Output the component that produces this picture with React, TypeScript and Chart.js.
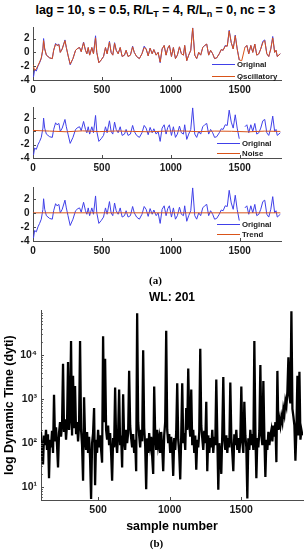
import React, { useEffect, useRef } from 'react';
import { Chart, registerables } from 'chart.js';

Chart.register(...registerables);

// ---------- (a) decomposition subplots ----------
const sampleX = [0,12,24,36,48,60,72,77,85,97,121,140,150,164,174,188,198,212,232,242,254,270,290,309,326,338,350,367,381,391,401,411,427,439,454,463,478,495,512,526,538,555,567,579,592,604,618,633,647,664,676,690,707,723,735,752,772,791,807,821,836,850,865,877,894,908,923,937,952,966,978,990,1005,1019,1034,1048,1063,1077,1092,1101,1116,1130,1145,1159,1174,1188,1203,1217,1232,1246,1261,1275,1289,1304,1318,1333,1352,1366,1380,1395,1410,1424,1439,1453,1468,1482,1497,1515,1538,1552,1566,1581,1595,1610,1624,1639,1653,1668,1682,1697,1711,1726,1740,1754,1764,1773,1795];

const originalVals = [-4.0,-2.5,-2.7,-2.0,-1.5,-0.9,0.5,2.0,0.5,-0.4,-0.8,-0.9,0.3,1.3,1.0,1.2,0.0,0.5,1.8,0.7,-0.4,-1.8,-0.9,0.3,0.6,0.7,0.1,1.5,0.3,-0.2,0.7,-0.4,0.7,-0.2,2.4,0.0,-1.5,-1.1,-0.6,0.7,-0.2,1.6,0.0,-0.4,1.4,0.3,-0.2,0.7,-0.6,-0.4,0.3,-0.6,-0.4,0.9,0.0,-0.6,-0.9,-0.2,0.9,0.5,-0.5,0.6,-0.2,0.4,-0.4,0.0,-1.5,0.5,1.0,-0.4,0.6,1.0,-0.6,0.7,-0.9,-0.4,0.8,-0.2,-0.4,1.0,-1.2,-0.4,0.3,3.55,-0.4,-0.9,0.0,-0.4,0.7,1.0,1.2,-0.4,0.3,-0.2,-0.9,-0.8,-0.2,0.4,0.3,1.0,0.9,3.2,1.4,0.5,2.5,0.5,-1.1,null,0.7,1.0,-0.2,1.0,0.0,1.2,-0.4,-0.2,0.5,1.6,1.8,-0.2,-0.6,0.5,2.3,0.0,0.3,-0.6,-0.2];

const oscillatoryVals = [-1.8,-2.6,-2.4,-1.9,-1.4,-0.8,0.5,1.7,0.5,-0.4,-0.8,-0.9,0.3,1.2,1.0,1.1,0.0,0.5,1.7,0.7,-0.4,-1.7,-0.9,0.3,0.6,0.7,0.1,1.4,0.3,-0.2,0.7,-0.4,0.7,-0.2,2.1,0.0,-1.5,-1.1,-0.6,0.7,-0.2,1.5,0.0,-0.4,1.3,0.3,-0.2,0.7,-0.6,-0.4,0.3,-0.6,-0.4,0.8,0.0,-0.6,-0.9,-0.2,0.7,0.5,-0.5,0.6,-0.2,0.4,-0.4,0.0,-1.4,0.5,1.0,-0.4,0.6,1.0,-0.6,0.7,-0.9,-0.4,0.8,-0.2,-0.4,1.0,-1.2,-0.4,0.3,3.5,-0.4,-0.9,0.0,-0.4,0.7,1.0,1.2,-0.4,0.3,-0.2,-0.9,-0.8,-0.2,0.4,0.3,0.9,0.9,3.1,1.4,0.5,2.4,0.5,-1.1,-1.2,0.7,1.0,-0.2,1.0,0.0,1.2,-0.4,-0.2,0.5,1.4,1.7,-0.2,-0.6,0.5,2.1,0.0,0.3,-0.6,-0.2];

const noiseX = [0,120,240,360,480,600,720,840,960,1080,1200,1320,1440,1560,1680,1795];
const noiseVals = [0.15,0.05,-0.05,0.08,-0.03,0.06,0.0,-0.05,0.04,0.07,-0.04,0.05,0.02,-0.06,0.04,0.0];

const trendX = [0, 1795];
const trendVals = [0.0, 0.0];

const subXTicks = [0, 500, 1000, 1500];
const subYTicks = [-4, -2, 0, 2];

// ---------- (b) dynamic time ----------
const dtStart = 101;
const dtStep = 7;
const dytiVals = [
  180, 60, 33, 150, 90, 200, 70, 160, 16, 120,
  80, 190, 60, 1260, 110, 230, 90, 28, 170, 300,
  140, 260, 6400, 180, 350, 120, 280, 7000, 200, 400,
  21000, 150, 3400, 220, 2000, 160, 300, 110, 250, 21000,
  200, 90, 14, 1100, 130, 70, 180, 60, 140, 45,
  5.4, 100, 170, 630, 11, 120, 60, 200, 80, 150,
  70, 36, 27000, 300, 8300, 200, 120, 250, 90, 170,
  60, 14, 130, 80, 1850, 110, 60, 160, 1650, 90,
  150, 28, 1300, 120, 70, 200, 100, 170, 4400, 250,
  130, 80, 160, 60, 120, 23, 90000, 300, 150, 80,
  200, 110, 13000, 220, 90, 9, 130, 60, 170, 90,
  140, 50, 20, 1950, 160, 70, 200, 90, 130, 60,
  180, 80, 23, 150, 300, 36000, 200, 100, 160, 60,
  140, 80, 18, 130, 70, 180, 2300, 120, 60, 15,
  150, 2300, 100, 170, 70, 630, 200, 5000, 300, 140,
  1650, 90, 200, 60, 150, 25, 120, 80, 180, 14000,
  250, 130, 70, 190, 100, 870, 23, 150, 60, 130,
  80, 200, 60, 140, 90, 2800, 150, 8.7, 100, 60,
  20, 170, 3200, 120, 70, 150, 60, 130, 80, 2400,
  140, 60, 23, 160, 90, 200, 70, 130, 60, 120,
  1950, 110, 60, 870, 150, 80, 5.5, 130, 70, 200,
  90, 160, 70, 21000, 200, 16, 130, 80, 190, 6000,
  150, 90, 2600, 140, 17, 120, 70, 180, 90, 150,
  200, 110, 250, 140, 300, 37, 4400, 200, 350, 250,
  400, 300, 600, 450, 900, 700, 1500, 9000, 1200, 800,
  100000, 600, 400, 250, 40, 200, 3400, 150, 4200, 120,
  200, 150
];
const dtXTicks = [500, 1000, 1500];
const dtYTicks = [10, 100, 1000, 10000];
const dtYLabels = ['10\u00B9', '10\u00B2', '10\u00B3', '10\u2074'];

const BLUE = '#4040e8';
const RED = '#d95319';
const AXIS = '#4d4d4d';
const TXT = '#1a1a1a';
const FONT = '"Liberation Sans", Arial, Helvetica, sans-serif';

Chart.defaults.font.family = FONT;

const insideLegend = {
  id: 'insideLegend',
  afterDraw(chart: any, _a: any, opts: any) {
    if (!opts || !opts.items) return;
    const { ctx, chartArea } = chart;
    ctx.save();
    ctx.font = 'bold 7.8px ' + FONT;
    ctx.textBaseline = 'middle';
    ctx.textAlign = 'left';
    for (const it of opts.items) {
      const y = Math.round(chartArea.bottom + it.dy) + 0.5;
      ctx.strokeStyle = it.color;
      ctx.lineWidth = 1;
      ctx.beginPath();
      ctx.moveTo(chartArea.right + opts.x1, y);
      ctx.lineTo(chartArea.right + opts.x2, y);
      ctx.stroke();
      ctx.fillStyle = TXT;
      ctx.fillText(it.label, chartArea.right + opts.tx, y);
    }
    ctx.restore();
  },
};

const innerTicks = {
  id: 'innerTicks',
  afterDraw(chart: any, _a: any, opts: any) {
    if (!opts) return;
    const { ctx, chartArea, scales } = chart;
    ctx.save();
    ctx.strokeStyle = AXIS;
    ctx.lineWidth = 1;
    ctx.beginPath();
    const len = opts.len || 3;
    for (const v of opts.x || []) {
      const px = Math.round(scales.x.getPixelForValue(v)) + 0.5;
      ctx.moveTo(px, chartArea.bottom);
      ctx.lineTo(px, chartArea.bottom - len);
    }
    for (const v of opts.y || []) {
      const py = Math.round(scales.y.getPixelForValue(v)) + 0.5;
      ctx.moveTo(chartArea.left, py);
      ctx.lineTo(chartArea.left + len, py);
    }
    if (opts.minor) {
      const ys = scales.y;
      for (let e = 0; e <= 5; e++) {
        for (let d = 2; d <= 9; d++) {
          const v = d * Math.pow(10, e);
          if (v < ys.min || v > ys.max) continue;
          const py = Math.round(ys.getPixelForValue(v)) + 0.5;
          ctx.moveTo(chartArea.left, py);
          ctx.lineTo(chartArea.left + 1.8, py);
        }
      }
    }
    ctx.stroke();
    ctx.restore();
  },
};

const noGrid = { display: false, drawTicks: false, drawOnChartArea: false };

function subConfig(datasets: any[], legendItems: any[], legendPos: any, areaTopPad: number) {
  return {
    type: 'line',
    data: { datasets },
    plugins: [insideLegend, innerTicks],
    options: {
      animation: false,
      responsive: false,
      layout: { padding: { top: areaTopPad, right: 26, left: 0, bottom: 0 } },
      elements: { point: { radius: 0 }, line: { tension: 0 } },
      plugins: {
        legend: { display: false },
        tooltip: { enabled: false },
        title: { display: false },
        insideLegend: { items: legendItems, ...legendPos },
        innerTicks: { x: subXTicks, y: subYTicks, len: 3 },
      },
      scales: {
        x: {
          type: 'linear',
          min: 0,
          max: 1800,
          afterBuildTicks: (s: any) => { s.ticks = subXTicks.map((v) => ({ value: v })); },
          afterFit: (s: any) => { s.height = 20; },
          grid: noGrid,
          border: { display: true, color: AXIS, width: 1 },
          ticks: {
            padding: 4,
            autoSkip: false,
            maxRotation: 0,
            color: TXT,
            font: { size: 10, weight: 'bold' },
            callback: (v: any) => String(v),
          },
        },
        y: {
          type: 'linear',
          min: -4,
          max: 3.6,
          afterBuildTicks: (s: any) => { s.ticks = subYTicks.map((v) => ({ value: v })); },
          afterFit: (s: any) => { s.width = 33; },
          grid: noGrid,
          border: { display: true, color: AXIS, width: 1 },
          ticks: {
            padding: 3.5,
            autoSkip: false,
            color: TXT,
            font: { size: 10, weight: 'bold' },
            callback: (v: any) => String(v),
          },
        },
      },
    },
  };
}

function pts(xs: number[], ys: (number | null)[]) {
  return xs.map((x, i) => ({ x, y: ys[i] }));
}

export default function App() {
  const c1 = useRef<HTMLCanvasElement>(null);
  const c2 = useRef<HTMLCanvasElement>(null);
  const c3 = useRef<HTMLCanvasElement>(null);
  const c4 = useRef<HTMLCanvasElement>(null);

  useEffect(() => {
    document.body.style.margin = '0';
    const charts: Chart[] = [];
    const orig = { label: 'Original', data: pts(sampleX, originalVals), borderColor: BLUE, borderWidth: 1, spanGaps: false };

    charts.push(new Chart(c1.current as HTMLCanvasElement, subConfig(
      [
        { label: 'Oscillatory', data: pts(sampleX, oscillatoryVals), borderColor: RED, borderWidth: 1 },
        orig,
      ],
      [ { label: 'Original', color: BLUE, dy: -16 }, { label: 'Oscillatory', color: RED, dy: -4.5 } ],
      { x1: -69, x2: -46, tx: -44 },
      5,
    ) as any));

    charts.push(new Chart(c2.current as HTMLCanvasElement, subConfig(
      [
        { label: 'Noise', data: pts(noiseX, noiseVals), borderColor: RED, borderWidth: 1 },
        { ...orig, data: pts(sampleX, originalVals) },
      ],
      [ { label: 'Original', color: BLUE, dy: -15.3 }, { label: 'Noise', color: RED, dy: -5.3 } ],
      { x1: -64, x2: -41, tx: -39 },
      5,
    ) as any));

    charts.push(new Chart(c3.current as HTMLCanvasElement, subConfig(
      [
        { label: 'Trend', data: pts(trendX, trendVals), borderColor: RED, borderWidth: 1 },
        { ...orig, data: pts(sampleX, originalVals) },
      ],
      [ { label: 'Original', color: BLUE, dy: -16.7 }, { label: 'Trend', color: RED, dy: -6.7 } ],
      { x1: -64, x2: -41, tx: -39 },
      5,
    ) as any));

    charts.push(new Chart(c4.current as HTMLCanvasElement, {
      type: 'line',
      data: {
        datasets: [
          {
            label: 'dyti',
            data: dytiVals.map((v, i) => ({ x: dtStart + i * dtStep, y: v })),
            borderColor: '#000',
            borderWidth: 2.3,
          },
        ],
      },
      plugins: [innerTicks],
      options: {
        animation: false,
        responsive: false,
        layout: { padding: { top: 7, right: 4, left: 0, bottom: 0 } },
        elements: { point: { radius: 0 }, line: { tension: 0 } },
        plugins: {
          legend: { display: false },
          tooltip: { enabled: false },
          innerTicks: { x: dtXTicks, y: dtYTicks, len: 3, minor: true },
        } as any,
        scales: {
          x: {
            type: 'linear',
            min: 101,
            max: 1932,
            afterBuildTicks: (s: any) => { s.ticks = dtXTicks.map((v) => ({ value: v })); },
            afterFit: (s: any) => { s.height = 35; },
            grid: noGrid,
            border: { display: true, color: AXIS, width: 1 },
            ticks: {
              padding: 4,
              autoSkip: false,
              maxRotation: 0,
              color: TXT,
              font: { size: 10.5, weight: 'bold' },
              callback: (v: any) => String(v),
            },
            title: {
              display: true,
              text: 'sample number',
              color: '#000',
              font: { size: 12.4, weight: 'bold' },
              padding: { top: 0, bottom: 0.5 },
            },
          },
          y: {
            type: 'logarithmic',
            min: 5.1,
            max: 105000,
            afterBuildTicks: (s: any) => { s.ticks = dtYTicks.map((v) => ({ value: v })); },
            afterFit: (s: any) => { s.width = 41; },
            grid: noGrid,
            border: { display: true, color: AXIS, width: 1 },
            ticks: {
              padding: 4,
              autoSkip: false,
              color: TXT,
              font: { size: 10.5, weight: 'bold' },
              callback: (_v: any, i: number) => dtYLabels[i],
            },
            title: {
              display: true,
              text: 'log Dynamic Time (dyti)',
              color: '#000',
              font: { size: 12.4, weight: 'bold' },
              padding: { top: 2, bottom: 0 },
            },
          },
        },
      },
    } as any));

    return () => charts.forEach((c) => c.destroy());
  }, []);

  const abs = (top: number, h: number): React.CSSProperties => ({ position: 'absolute', left: 0, top, width: 307, height: h });
  const sub: React.CSSProperties = { fontSize: '9px', verticalAlign: '-3px', lineHeight: 0 };

  return (
    <div style={{ position: 'relative', width: 307, height: 550, background: '#fff', overflow: 'hidden' }}>
      <div style={{ position: 'absolute', left: 2, top: 3, width: 307, textAlign: 'center', font: `bold 12.4px ${FONT}`, lineHeight: '14px', color: '#000', whiteSpace: 'nowrap' }}>
        lag = 10, s = 0.5, R/L<sub style={sub}>T</sub> = 4, R/L<sub style={sub}>n</sub> = 0, nc = 3
      </div>
      <canvas ref={c1} width={307} height={82} style={abs(18, 82)} />
      <canvas ref={c2} width={307} height={80} style={abs(98, 80)} />
      <canvas ref={c3} width={307} height={83} style={abs(178, 83)} />
      <div style={{ position: 'absolute', left: 0, top: 273, width: 311, textAlign: 'center', font: 'bold 11px "Liberation Serif", "Times New Roman", serif', lineHeight: '14px', color: '#000' }}>(a)</div>
      <div style={{ position: 'absolute', left: 0, top: 290, width: 344, textAlign: 'center', font: `bold 12px ${FONT}`, lineHeight: '15px', color: '#000' }}>WL: 201</div>
      <canvas ref={c4} width={307} height={235} style={abs(300, 235)} />
      <div style={{ position: 'absolute', left: 0, top: 536, width: 313, textAlign: 'center', font: 'bold 11px "Liberation Serif", "Times New Roman", serif', lineHeight: '14px', color: '#000' }}>(b)</div>
    </div>
  );
}
